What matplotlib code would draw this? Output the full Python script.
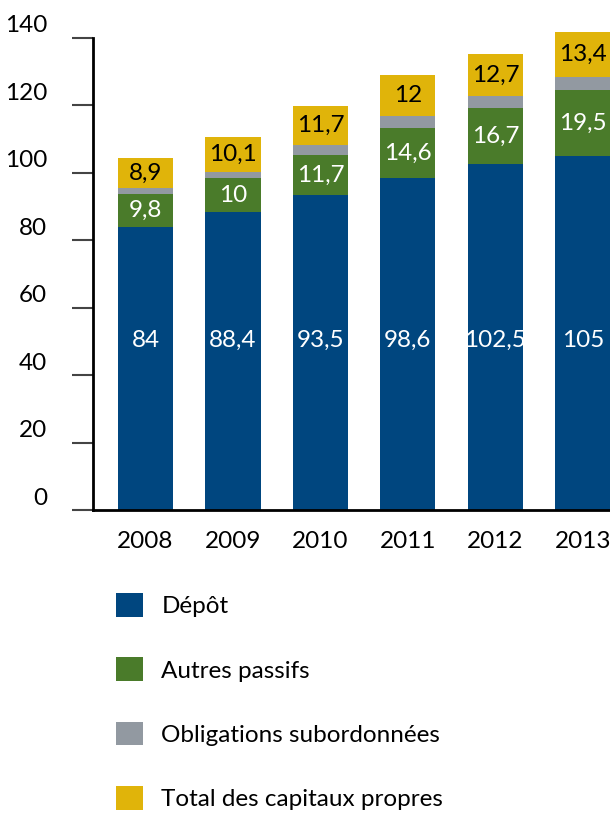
import matplotlib
matplotlib.use('Agg')
import matplotlib.pyplot as plt
import matplotlib.transforms as mtransforms
import numpy as np

plt.rcParams['font.family'] = ['Lato', 'DejaVu Sans']

# Données du graphique
annees = ['2008', '2009', '2010', '2011', '2012', '2013']
depot = [84, 88.4, 93.5, 98.6, 102.5, 105]
autres_passifs = [9.8, 10, 11.7, 14.6, 16.7, 19.5]
obligations = [1.6, 2.0, 3.0, 3.8, 3.5, 4.0]
capitaux_propres = [8.9, 10.1, 11.7, 12, 12.7, 13.4]

def fmt(v):
    return ('%g' % v).replace('.', ',')

c_bleu = '#00467f'
c_vert = '#4a7b2a'
c_gris = '#9299a1'
c_jaune = '#e0b40a'
fs = 17.5

fig = plt.figure(figsize=(6.1, 8.13), dpi=100)
ax = fig.add_axes([93/610, (813-510)/813, 1 - 93/610, (510-38)/813])

x = np.arange(len(annees))
w = 0.63
b1 = np.array(depot)
b2 = b1 + np.array(autres_passifs)
b3 = b2 + np.array(obligations)

r1 = ax.bar(x, depot, w, color=c_bleu, label='Dépôt', clip_on=False, zorder=2)
r2 = ax.bar(x, autres_passifs, w, bottom=b1, color=c_vert, label='Autres passifs', clip_on=False, zorder=2)
r3 = ax.bar(x, obligations, w, bottom=b2, color=c_gris, label='Obligations subordonnées', clip_on=False, zorder=2)
r4 = ax.bar(x, capitaux_propres, w, bottom=b3, color=c_jaune, label='Total des capitaux propres', clip_on=False, zorder=2)

# étiquettes de valeurs
for i in range(len(annees)):
    ax.text(x[i], 50.4, fmt(depot[i]), ha='center', va='center', color='white', fontsize=fs)
    ax.text(x[i], b1[i] + autres_passifs[i] / 2, fmt(autres_passifs[i]), ha='center', va='center', color='white', fontsize=fs)
    ax.text(x[i], b3[i] + capitaux_propres[i] / 2, fmt(capitaux_propres[i]), ha='center', va='center', color='black', fontsize=fs)

ax.set_xlim(-0.6, 5.31)
ax.set_ylim(0, 140)
ax.set_yticks(range(0, 141, 20))
ax.set_xticks(x)
ax.set_xticklabels(annees)

for s in ['top', 'right']:
    ax.spines[s].set_visible(False)
ax.spines['left'].set_linewidth(2)
ax.spines['bottom'].set_linewidth(2)
ax.spines['left'].set_zorder(3)

ax.tick_params(axis='y', direction='out', length=15, width=1.5, color='#444444', labelsize=fs, pad=18)
ax.tick_params(axis='x', length=0, labelsize=fs, pad=15)

# les étiquettes de l'axe Y sont décalées vers le haut
off = mtransforms.ScaledTranslation(0, 0.14, fig.dpi_scale_trans)
for lab in ax.get_yticklabels():
    lab.set_transform(lab.get_transform() + off)

fig.legend(handles=[r1, r2, r3, r4], loc='upper left',
           bbox_to_anchor=(116/610, 1 - 593/813), frameon=False,
           fontsize=fs, handlelength=1.12, handleheight=1.12,
           handletextpad=0.75, labelspacing=1.66, borderpad=0, borderaxespad=0)

fig.savefig('out.png', dpi=100)
